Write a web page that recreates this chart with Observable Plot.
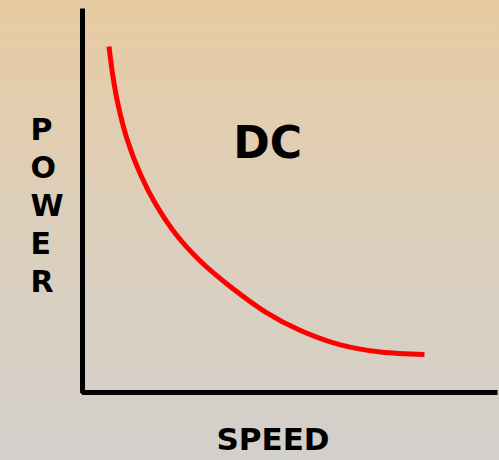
<!DOCTYPE html>
<html>
<head>
<meta charset="utf-8">
<script src="https://cdn.jsdelivr.net/npm/d3@7"></script>
<script src="https://cdn.jsdelivr.net/npm/@observablehq/plot@0.6"></script>
<style>
  html, body { margin: 0; padding: 0; background: #ddcdb8; }
</style>
</head>
<body>
<div id="chart"></div>
<script>
// Curve (arbitrary units, 0–100)
const speed = [6.39, 7.23, 8.67, 10.84, 13.98, 17.59, 22.41, 28.43, 35.66, 44.10, 52.53, 62.17, 71.81, 82.41];
const power = [90.10, 83.07, 74.48, 65.63, 56.77, 49.14, 41.33, 34.17, 27.53, 20.96, 16.15, 12.40, 10.52, 9.90];

// L-shaped axes
const axisX = [0, 0, 100];
const axisY = [100, 0, 0];

// Labels
const curveLabel = "DC";
const xLabel = "SPEED";
const yLabel = "POWER";

const curve = speed.map((s, i) => ({speed: s, power: power[i]}));
const axes = axisX.map((x, i) => ({x, y: axisY[i]}));

const font = "'DejaVu Sans', sans-serif";

const chart = Plot.plot({
  width: 499,
  height: 460,
  marginTop: 8,
  marginLeft: 82,
  marginRight: 2,
  marginBottom: 68,
  x: {domain: [0, 100], axis: null},
  y: {domain: [0, 100], axis: null},
  style: {
    background: "linear-gradient(to bottom, #e8cba2 0%, #dccfbc 50%, #d3cfcb 100%)",
    fontFamily: font
  },
  marks: [
    Plot.line(axes, {x: "x", y: "y", stroke: "black", strokeWidth: 5, strokeLinejoin: "miter", strokeLinecap: "butt"}),
    Plot.line(curve, {x: "speed", y: "power", stroke: "#ff0000", strokeWidth: 5, curve: "catmull-rom", strokeLinecap: "butt"}),
    Plot.text([curveLabel], {x: 44.6, y: 64.7, text: d => d, fontSize: 44, fontWeight: "bold", fill: "black", fontFamily: font}),
    Plot.text([xLabel], {x: 45.9, frameAnchor: "bottom", dy: 57, text: d => d, fontSize: 31, fontWeight: "bold", fill: "black", fontFamily: font}),
    Plot.text([yLabel.split("").join("\n")], {y: 49.2, frameAnchor: "left", dx: -52, text: d => d, fontSize: 30, lineHeight: 1.27, fontWeight: "bold", fill: "black", fontFamily: font})
  ]
});
document.getElementById("chart").appendChild(chart);
</script>
</body>
</html>
